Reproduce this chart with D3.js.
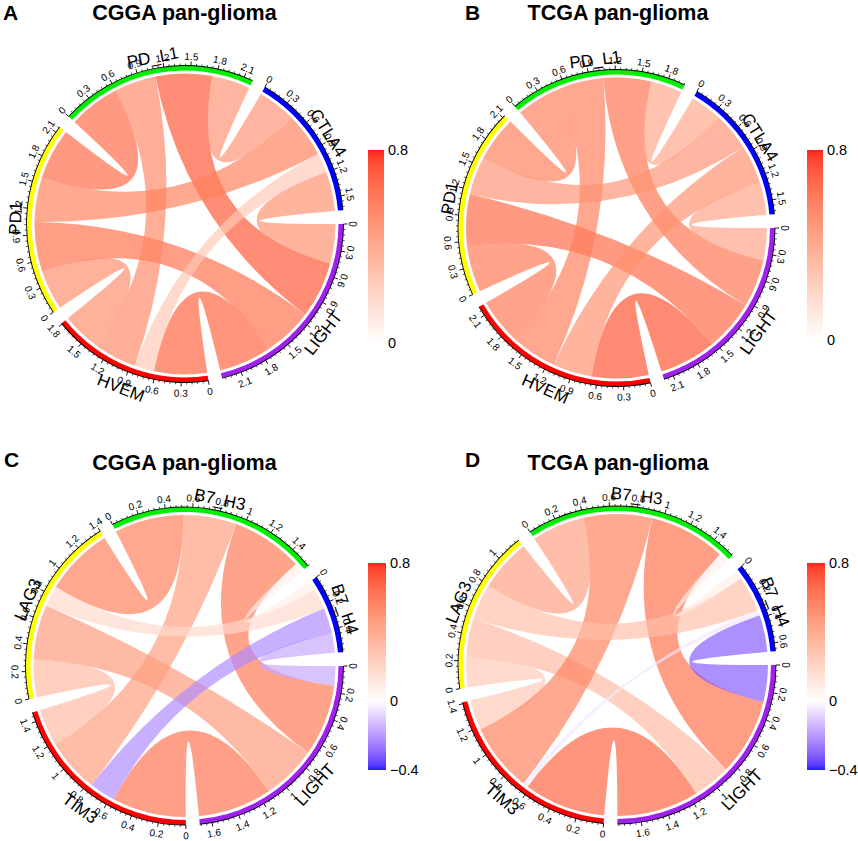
<!DOCTYPE html>
<html><head><meta charset="utf-8">
<script src="https://cdn.jsdelivr.net/npm/d3@7"></script>
<style>
body{margin:0;background:#fff}
svg{display:block;font-family:"Liberation Sans",Arial,Helvetica,sans-serif}
</style>
</head><body>
<svg id="chart" width="858" height="841"></svg>
<script>
// ---------------- data ----------------
const genesAB = ["LIGHT", "HVEM", "PD1", "PD_L1", "CTLA4"];
const pairSourceAB = ["LIGHT", "LIGHT", "LIGHT", "LIGHT", "HVEM", "HVEM", "HVEM", "PD1", "PD1", "PD_L1"];
const pairTargetAB = ["HVEM", "PD1", "PD_L1", "CTLA4", "PD1", "PD_L1", "CTLA4", "PD_L1", "CTLA4", "CTLA4"];
const corrA = [0.62, 0.58, 0.66, 0.46, 0.47, 0.49, 0.23, 0.60, 0.52, 0.45];
const corrB = [0.67, 0.60, 0.56, 0.38, 0.55, 0.53, 0.46, 0.53, 0.45, 0.37];

const genesCD = ["LIGHT", "TIM3", "LAG3", "B7_H3", "B7_H4"];
const pairSourceCD = ["LIGHT", "LIGHT", "LIGHT", "LIGHT", "TIM3", "TIM3", "TIM3", "LAG3", "LAG3", "B7_H3"];
const pairTargetCD = ["TIM3", "LAG3", "B7_H3", "B7_H4", "LAG3", "B7_H3", "B7_H4", "B7_H3", "B7_H4", "B7_H4"];
const corrC = [0.57, 0.42, 0.55, -0.15, 0.29, 0.41, -0.20, 0.53, 0.16, 0.07];
const corrD = [0.62, 0.29, 0.58, -0.28, 0.23, 0.52, -0.04, 0.40, 0.27, 0.07];

const titles = ["CGGA pan-glioma", "TCGA pan-glioma", "CGGA pan-glioma", "TCGA pan-glioma"];
const panelLetters = ["A", "B", "C", "D"];
const tickStepAB = 0.3, tickStepCD = 0.2;
const legendTicksAB = [0.8, 0];
const legendTicksCD = [0.8, 0, -0.4];

// ---------------- style / layout ----------------
const trackColors = ["#A020F0", "#FF0000", "#FFFF00", "#00EE00", "#0000FF"];
const GAP = 5;
const LINK_OPACITY = 0.68;

const panels = [
  {genes: genesAB, src: pairSourceAB, tgt: pairTargetAB, vals: corrA, step: tickStepAB, legTicks: legendTicksAB,
   cx: 185, cy: 224, R: 158.5, leg: {x: 368, y: 150, w: 16, h: 193}, tx: 184.5, ty: 20, lx: 3, ly: 20},
  {genes: genesAB, src: pairSourceAB, tgt: pairTargetAB, vals: corrB, step: tickStepAB, legTicks: legendTicksAB,
   cx: 616.5, cy: 228, R: 158.5, leg: {x: 807, y: 150, w: 16, h: 190}, tx: 618, ty: 20, lx: 465, ly: 20},
  {genes: genesCD, src: pairSourceCD, tgt: pairTargetCD, vals: corrC, step: tickStepCD, legTicks: legendTicksCD,
   cx: 184.5, cy: 666, R: 159, leg: {x: 368, y: 563, w: 18, h: 207}, tx: 184.5, ty: 469.5, lx: 4, ly: 467},
  {genes: genesCD, src: pairSourceCD, tgt: pairTargetCD, vals: corrD, step: tickStepCD, legTicks: legendTicksCD,
   cx: 617, cy: 665, R: 159, leg: {x: 807, y: 563, w: 18, h: 207}, tx: 618, ty: 469.5, lx: 465, ly: 467}
];

const redRamp = d3.interpolateLab("#ffffff", "#ff0000");
const blueRamp = d3.interpolateLab("#ffffff", "#0000ff");
function colorOf(v) { return v >= 0 ? redRamp(Math.min(1, v / 0.8)) : blueRamp(Math.min(1, -v / 0.4)); }

const svg = d3.select("#chart");
const rad = deg => (deg + 90) * Math.PI / 180;
const fmt = v => String(+v.toFixed(1));

function placeText(g, txt, theta, rBase, rTop, size, cls) {
  const t = ((theta % 360) + 360) % 360;
  const flipped = t > 27 && t < 180;
  const r = flipped ? rTop : rBase;
  const x = r * Math.cos(theta * Math.PI / 180), y = r * Math.sin(theta * Math.PI / 180);
  const rot = flipped ? t - 90 : t + 90;
  g.append("text").attr("class", cls)
    .attr("transform", `translate(${x},${y}) rotate(${rot})`)
    .attr("text-anchor", "middle")
    .attr("dy", flipped ? "0.72em" : "0")
    .attr("font-size", size)
    .text(txt);
}

panels.forEach((p, pi) => {
  const n = p.genes.length;
  const idx = new Map(p.genes.map((d, i) => [d, i]));
  const M = Array.from({length: n}, () => new Array(n).fill(0));
  p.src.forEach((s, k) => {
    const i = idx.get(s), j = idx.get(p.tgt[k]);
    M[i][j] = p.vals[k]; M[j][i] = p.vals[k];
  });
  const sizes = M.map(row => d3.sum(row, Math.abs));
  const total = d3.sum(sizes);
  const unit = (360 - n * GAP) / total;
  let a = 0;
  const sectors = sizes.map((s, i) => {
    const st = a, en = a + s * unit; a = en + GAP;
    return {i, name: p.genes[i], size: s, start: st, end: en,
            scale: d3.scaleLinear().domain([0, s]).range([st, en])};
  });
  const pos = {};
  sectors.forEach(sec => {
    let off = 0;
    for (let k = 1; k < n; k++) {
      const j = (sec.i - k + n) % n;
      const w = Math.abs(M[sec.i][j]);
      pos[sec.i + "-" + j] = [sec.scale(off), sec.scale(off + w)];
      off += w;
    }
  });

  const R = p.R;
  const g = svg.append("g").attr("transform", `translate(${p.cx},${p.cy})`);

  // links
  const ribbon = d3.ribbon().radius(R - 8);
  const links = p.src.map((s, k) => {
    const i = idx.get(s), j = idx.get(p.tgt[k]);
    return {v: p.vals[k], a: pos[i + "-" + j], b: pos[j + "-" + i]};
  });
  g.append("g").selectAll("path").data(links).join("path")
    .attr("d", d => ribbon({source: {startAngle: rad(d.a[0]), endAngle: rad(d.a[1])},
                            target: {startAngle: rad(d.b[0]), endAngle: rad(d.b[1])}}))
    .attr("fill", d => colorOf(d.v))
    .attr("fill-opacity", LINK_OPACITY);

  // tracks
  const trackArc = d3.arc().innerRadius(R - 5).outerRadius(R);
  const axisArc = d3.arc().innerRadius(R - 0.45).outerRadius(R + 0.45);
  g.append("g").selectAll("path").data(sectors).join("path")
    .attr("d", d => trackArc({startAngle: rad(d.start), endAngle: rad(d.end)}))
    .attr("fill", d => trackColors[d.i]);
  g.append("g").selectAll("path").data(sectors).join("path")
    .attr("d", d => axisArc({startAngle: rad(d.start), endAngle: rad(d.end)}))
    .attr("fill", "#000");

  // ticks
  const tg = g.append("g");
  sectors.forEach(sec => {
    const minors = d3.range(0, sec.size + 1e-9, p.step / 5);
    minors.forEach((v, k) => {
      const major = k % 5 === 0;
      const th = sec.scale(v) * Math.PI / 180;
      const r1 = R, r2 = R + (major ? 4 : 2);
      tg.append("line")
        .attr("x1", r1 * Math.cos(th)).attr("y1", r1 * Math.sin(th))
        .attr("x2", r2 * Math.cos(th)).attr("y2", r2 * Math.sin(th))
        .attr("stroke", "#000").attr("stroke-width", major ? 0.9 : 0.7);
    });
    const majors = d3.range(0, sec.size + 1e-9, p.step);
    majors.forEach(v => placeText(tg, fmt(v), sec.scale(v), R + 5.5, R + 7, 10, "tick"));
    placeText(tg, sec.name, (sec.start + sec.end) / 2, R + 5.5, R + 11, 17, "name");
  });

  // legend
  const L = p.leg;
  const lmax = d3.max(p.legTicks), lmin = d3.min(p.legTicks);
  const ly = d3.scaleLinear().domain([lmax, lmin]).range([L.y, L.y + L.h]);
  const gid = "grad" + pi;
  const grad = svg.append("defs").append("linearGradient").attr("id", gid)
    .attr("x1", 0).attr("y1", 0).attr("x2", 0).attr("y2", 1);
  d3.range(0, 1.0001, 0.02).forEach(t => {
    grad.append("stop").attr("offset", t).attr("stop-color", colorOf(lmax + (lmin - lmax) * t));
  });
  svg.append("rect").attr("x", L.x).attr("y", L.y).attr("width", L.w).attr("height", L.h)
    .attr("fill", `url(#${gid})`).attr("fill-opacity", 0.88);
  p.legTicks.forEach(v => {
    svg.append("text").attr("x", L.x + L.w + 4).attr("y", ly(v)).attr("dy", "0.36em")
      .attr("font-size", 14.5).text(v < 0 ? "\u2212" + Math.abs(v) : String(v));
  });

  // title + letter
  svg.append("text").attr("x", p.tx).attr("y", p.ty).attr("text-anchor", "middle")
    .attr("font-size", 21.5).attr("font-weight", "bold").text(titles[pi]);
  svg.append("text").attr("x", p.lx).attr("y", p.ly)
    .attr("font-size", 21).attr("font-weight", "bold").text(panelLetters[pi]);
});
</script>
</body></html>
